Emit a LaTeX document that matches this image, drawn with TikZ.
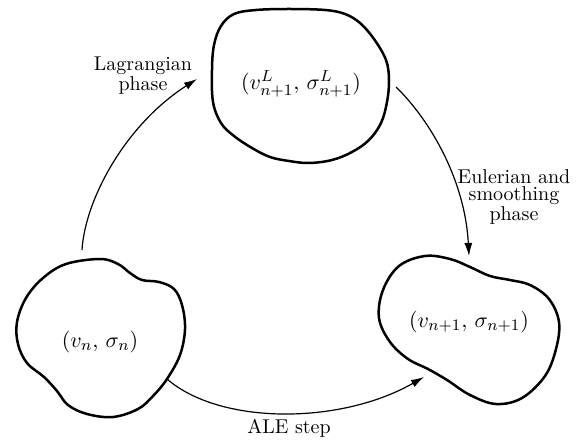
\documentclass[tikz,border=0pt]{standalone}
\usetikzlibrary{arrows.meta}
\begin{document}
\begin{tikzpicture}[x=0.5pt,y=-0.5pt,
 blob/.style={line width=1.25pt, line join=round},
 flow/.style={line width=0.6pt, -{Latex[length=6.5pt,width=4pt]}},
 lbl/.style={align=center, font=\fontsize{10}{8.6}\selectfont, inner sep=0pt},
 val/.style={inner sep=0pt, font=\fontsize{10.8}{13}\selectfont}]
\useasboundingbox (0,0) rectangle (578,443);
% top blob
\draw[blob] plot[smooth cycle, tension=0.6] coordinates {
 (212,70) (214,45) (221,26) (234,14) (256,10) (289,9) (325,10) (345,14) (360,23) (374,39)
 (386,60) (389,80) (387,102) (381,123) (369,140) (352,152) (332,160) (309,163) (289,161)
 (270,157) (252,148) (234,136) (221,123) (213,102)};
% bottom-left blob
\draw[blob] plot[smooth cycle, tension=0.6] coordinates {
 (100,259) (118,264) (130,273) (142,280) (159,282) (174,289) (182,305) (185,329)
 (180,355) (167,379) (153,396) (138,409) (113,417) (87,414) (68,405) (57,391)
 (44,377) (27,363) (18,344) (17,322) (26,298) (43,278) (66,264)};
% bottom-right blob
\draw[blob] plot[smooth cycle, tension=0.6] coordinates {
 (379,318) (383,290) (399,266) (425,256) (450,259) (470,267) (490,276) (510,280)
 (530,285) (549,299) (559,322) (556,349) (545,376) (522,398) (496,404) (470,395)
 (447,380) (428,369) (408,359) (390,342)};
% labels inside blobs
\node[val] (top) at (301,84) {$(v^L_{n+1},\,\sigma^L_{n+1})$};
\node[val] (left) at (100,342) {$(v_n,\,\sigma_n)$};
\node[val] (right) at (469,322) {$(v_{n+1},\,\sigma_{n+1})$};
% connector ends
\coordinate (a0) at (82,250);
\coordinate (a1) at (197,79);
\coordinate (b0) at (396,87);
\coordinate (b1) at (469,256);
\coordinate (c0) at (167,379);
\coordinate (c1) at (424,377);
\draw[flow] (a0) .. controls (85,200) and (125,125) .. (a1);
\draw[flow] (b0) .. controls (430,120) and (465,180) .. (b1);
\draw[flow] (c0) .. controls (220,425) and (340,425) .. (c1);
% edge labels
\node[lbl] (lagr) at (143,76) {Lagrangian\\phase};
\node[lbl] (euler) at (514,197) {Eulerian and\\smoothing\\phase};
\node[lbl] (ale) at (289,428) {ALE step};
\end{tikzpicture}
\end{document}
